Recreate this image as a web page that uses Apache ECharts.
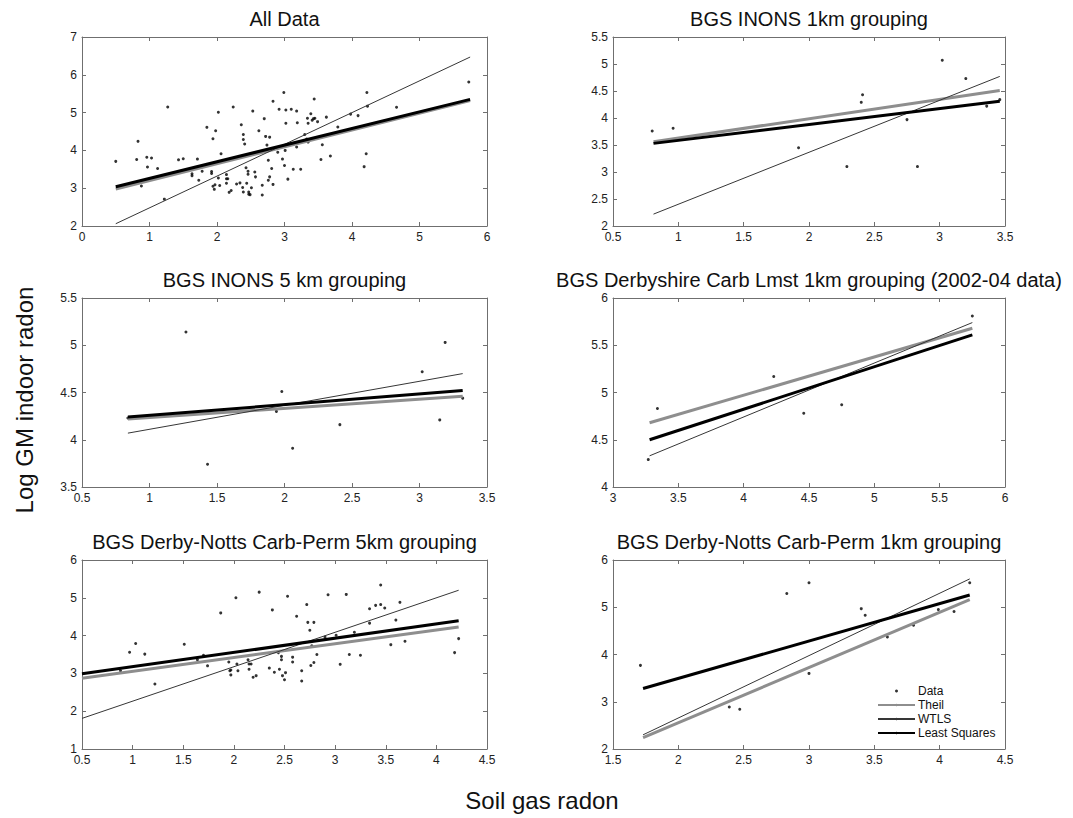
<!DOCTYPE html>
<html>
<head>
<meta charset="utf-8">
<script src="https://cdn.jsdelivr.net/npm/echarts@6/dist/echarts.min.js"></script>
<style>
  html, body { margin: 0; padding: 0; background: #ffffff; }
  #chart { width: 1073px; height: 818px; }
</style>
</head>
<body>
<div id="chart"></div>
<script>
// ---- Panel titles ----
const panelTitles = [
  'All Data',
  'BGS INONS 1km grouping',
  'BGS INONS 5 km grouping',
  'BGS Derbyshire Carb Lmst 1km grouping (2002-04 data)',
  'BGS Derby-Notts Carb-Perm 5km grouping',
  'BGS Derby-Notts Carb-Perm 1km grouping'
];
const seriesNames = ['Data', 'Theil', 'WTLS', 'Least Squares'];

// ---- Axis ranges: [min, max, interval] ----
const xRanges = [[0, 6, 1], [0.5, 3.5, 0.5], [0.5, 3.5, 0.5], [3, 6, 0.5], [0.5, 4.5, 0.5], [1.5, 4.5, 0.5]];
const yRanges = [[2, 7, 1], [2, 5.5, 0.5], [3.5, 5.5, 0.5], [4, 6, 0.5], [1, 6, 1], [2, 6, 1]];

// ---- Soil gas radon (x) vs log GM indoor radon (y) ----
const allDataPts = [
  [0.50,3.71],[0.83,4.24],[0.81,3.76],[0.96,3.82],[1.03,3.80],[0.97,3.56],[0.88,3.06],[1.12,3.52],
  [1.27,5.15],[1.22,2.71],[1.43,3.75],[1.50,3.78],[1.63,3.38],[1.63,3.33],[1.71,3.77],[1.73,3.21],
  [1.78,3.45],[1.85,4.61],[1.94,4.31],[1.98,4.52],[2.02,5.01],[2.06,3.91],[1.92,3.44],[1.92,3.39],
  [1.94,3.05],[1.96,2.97],[1.97,3.09],[2.02,3.27],[2.04,3.07],[2.14,3.36],[2.14,3.25],[2.14,3.13],
  [2.16,3.25],[2.18,2.89],[2.21,2.94],[2.24,5.15],[2.29,3.11],[2.34,3.14],[2.36,4.68],[2.39,4.42],
  [2.39,4.29],[2.41,4.17],[2.38,3.02],[2.39,2.90],[2.43,3.54],[2.46,3.45],[2.46,3.37],[2.44,3.13],
  [2.47,2.90],[2.47,2.84],[2.49,2.83],[2.51,3.01],[2.53,5.04],[2.56,3.43],[2.57,3.30],[2.62,4.52],
  [2.67,3.08],[2.67,2.82],[2.70,4.84],[2.72,4.37],[2.78,4.35],[2.74,4.14],[2.76,3.74],[2.76,3.21],
  [2.78,3.30],[2.81,3.52],[2.83,5.30],[2.83,3.10],[2.90,3.95],[2.92,5.09],[2.97,3.77],[2.99,5.53],
  [3.02,5.07],[3.02,4.72],[3.01,4.00],[3.00,3.60],[3.05,3.24],[3.10,5.09],[3.13,3.50],[3.18,5.04],
  [3.19,4.73],[3.18,4.09],[3.24,3.50],[3.30,4.42],[3.33,4.30],[3.34,4.85],[3.35,4.72],[3.35,4.22],
  [3.39,4.97],[3.41,4.80],[3.43,4.84],[3.45,4.85],[3.44,5.36],[3.49,4.76],[3.56,4.15],[3.54,3.76],
  [3.62,4.88],[3.68,3.85],[3.79,4.62],[3.98,4.96],[4.09,4.92],[4.18,3.57],[4.21,3.91],[4.22,5.53],
  [4.23,5.17],[4.66,5.14],[4.75,4.89],[5.73,5.81]
];
const inons1kmPts = [
  [0.80,3.76],[0.96,3.81],[1.92,3.45],[2.29,3.10],[2.40,4.29],[2.41,4.43],
  [2.75,3.97],[2.83,3.10],[3.02,5.07],[3.20,4.73],[3.36,4.22],[3.46,4.34]
];
const inons5kmPts = [
  [0.84,4.23],[1.27,5.14],[1.43,3.74],[1.94,4.30],[1.98,4.51],
  [2.06,3.91],[2.41,4.16],[3.02,4.72],[3.19,5.03],[3.15,4.21],[3.32,4.44]
];
const derbyLmstPts = [
  [3.27,4.29],[3.34,4.83],[4.23,5.17],[4.46,4.78],[4.75,4.87],[5.75,5.81]
];
const derbyNotts5kmPts = [
  [0.49,3.71],[0.88,3.07],[0.97,3.56],[1.03,3.79],[1.12,3.51],[1.22,2.72],[1.51,3.77],[1.64,3.36],
  [1.70,3.48],[1.74,3.20],[1.87,4.60],[1.95,3.30],[1.96,3.07],[1.97,3.09],[1.97,2.96],[2.02,5.00],
  [2.03,3.25],[2.04,3.07],[2.14,3.36],[2.15,3.25],[2.15,3.11],[2.17,3.25],[2.19,2.90],[2.22,2.94],
  [2.25,5.15],[2.35,3.14],[2.38,4.68],[2.40,3.03],[2.44,3.55],[2.45,3.11],[2.47,3.45],[2.47,3.36],
  [2.48,2.94],[2.50,2.83],[2.51,3.02],[2.53,5.04],[2.58,3.43],[2.58,3.30],[2.62,4.51],[2.67,3.07],
  [2.67,2.80],[2.72,4.82],[2.73,4.35],[2.75,4.14],[2.79,4.35],[2.77,3.73],[2.76,3.21],[2.79,3.29],
  [2.82,3.50],[2.90,3.96],[2.93,5.08],[3.01,4.01],[3.05,3.24],[3.11,5.09],[3.14,3.50],[3.19,4.09],
  [3.25,3.48],[3.34,4.33],[3.34,4.71],[3.40,4.80],[3.45,5.34],[3.45,4.82],[3.49,4.73],[3.55,3.76],
  [3.60,4.41],[3.64,4.88],[3.69,3.85],[4.18,3.55],[4.22,3.92]
];
const derbyNotts1kmPts = [
  [1.71,3.77],[2.39,2.89],[2.47,2.84],[2.83,5.29],[3.00,5.52],[3.00,3.60],[3.40,4.97],
  [3.43,4.83],[3.60,4.37],[3.80,4.62],[3.99,4.95],[4.11,4.91],[4.23,5.52]
];

// ---- Fitted lines, end points [[x0, y0], [x1, y1]] ----
const theilFits = [
  [[0.50,2.98],[5.75,5.32]],
  [[0.81,3.56],[3.46,4.51]],
  [[0.84,4.22],[3.32,4.46]],
  [[3.28,4.68],[5.75,5.68]],
  [[0.50,2.87],[4.22,4.23]],
  [[1.73,2.24],[4.23,5.16]]
];
const wtlsFits = [
  [[0.50,2.06],[5.75,6.47]],
  [[0.81,2.22],[3.46,4.77]],
  [[0.84,4.07],[3.32,4.70]],
  [[3.28,4.33],[5.75,5.74]],
  [[0.50,1.81],[4.22,5.20]],
  [[1.73,2.30],[4.23,5.60]]
];
const lsFits = [
  [[0.50,3.04],[5.75,5.35]],
  [[0.81,3.53],[3.46,4.31]],
  [[0.84,4.24],[3.32,4.52]],
  [[3.28,4.50],[5.75,5.61]],
  [[0.50,2.99],[4.22,4.39]],
  [[1.73,3.28],[4.23,5.26]]
];
const panelPoints = [allDataPts, inons1kmPts, inons5kmPts, derbyLmstPts, derbyNotts5kmPts, derbyNotts1kmPts];

// ---- Layout ----
const colLeft = [82, 613];
const colWidth = [405, 392];
const rowTop = [37, 298, 560];
const plotHeight = 189;

const FONT = "'Liberation Sans', Arial, sans-serif";
const AXIS_COLOR = '#6f6f6f';
const THEIL_COLOR = '#8e8e8e';
const WTLS_COLOR = '#363636';
const LS_COLOR = '#000000';

const grids = [], xAxes = [], yAxes = [], series = [], graphics = [];

function axisCommon(show) {
  return {
    axisLine: { show: true, onZero: false, lineStyle: { color: AXIS_COLOR, width: 1 } },
    axisTick: { show: true, inside: true, length: 4, lineStyle: { color: AXIS_COLOR, width: 1 } },
    axisLabel: { show: show, fontSize: 12, color: '#222', fontFamily: FONT },
    splitLine: { show: false }
  };
}

for (let i = 0; i < 6; i++) {
  const col = i % 2, row = Math.floor(i / 2);
  const left = colLeft[col], top = rowTop[row], width = colWidth[col];
  grids.push({ left: left, top: top, width: width, height: plotHeight,
               outerBoundsMode: 'none', containLabel: false });
  const [x0, x1, xi] = xRanges[i];
  const [y0, y1, yi] = yRanges[i];

  const xb = Object.assign({ type: 'value', gridIndex: i, min: x0, max: x1, interval: xi, position: 'bottom' }, axisCommon(true));
  xb.axisLabel.margin = 5;
  const xt = Object.assign({ type: 'value', gridIndex: i, min: x0, max: x1, interval: xi, position: 'top' }, axisCommon(false));
  const yl = Object.assign({ type: 'value', gridIndex: i, min: y0, max: y1, interval: yi, position: 'left' }, axisCommon(true));
  yl.axisLabel.margin = 5;
  const yr = Object.assign({ type: 'value', gridIndex: i, min: y0, max: y1, interval: yi, position: 'right' }, axisCommon(false));
  const xIdx = xAxes.length, yIdx = yAxes.length;
  xAxes.push(xb, xt);
  yAxes.push(yl, yr);

  series.push({
    name: 'Data', type: 'scatter', xAxisIndex: xIdx, yAxisIndex: yIdx,
    data: panelPoints[i], symbol: 'circle', symbolSize: 3,
    itemStyle: { color: '#000' }, silent: true, z: 2
  });
  const lineDefs = [
    ['Theil', theilFits[i], THEIL_COLOR, 3],
    ['WTLS', wtlsFits[i], WTLS_COLOR, 1],
    ['Least Squares', lsFits[i], LS_COLOR, 3]
  ];
  lineDefs.forEach(([name, pts, color, w], k) => {
    series.push({
      name: name, type: 'line', xAxisIndex: xIdx, yAxisIndex: yIdx,
      data: pts, symbol: 'none', showSymbol: false, silent: true, z: 3 + k,
      lineStyle: { color: color, width: w }, itemStyle: { color: color }
    });
  });

  graphics.push({
    type: 'text', x: left + width / 2, y: top - 18,
    style: { text: panelTitles[i], fill: '#111', font: '20px ' + FONT, align: 'center', verticalAlign: 'middle' }
  });
}

// Shared axis titles
graphics.push({
  type: 'text', x: 24, y: 400, rotation: Math.PI / 2,
  style: { text: 'Log GM indoor radon', fill: '#111', font: '24px ' + FONT, align: 'center', verticalAlign: 'middle' }
});
graphics.push({
  type: 'text', x: 542, y: 800,
  style: { text: 'Soil gas radon', fill: '#111', font: '24px ' + FONT, align: 'center', verticalAlign: 'middle' }
});

const chart = echarts.init(document.getElementById('chart'), null, { renderer: 'svg' });
chart.setOption({
  animation: false,
  backgroundColor: '#ffffff',
  grid: grids,
  xAxis: xAxes,
  yAxis: yAxes,
  series: series,
  graphic: graphics,
  legend: {
    data: seriesNames,
    orient: 'vertical',
    left: 872, top: 680,
    itemWidth: 37, itemHeight: 3, itemGap: 2,
    selectedMode: false,
    textStyle: { fontSize: 12, color: '#111', fontFamily: FONT, padding: [0, 0, 0, -2] }
  }
});
</script>
</body>
</html>
